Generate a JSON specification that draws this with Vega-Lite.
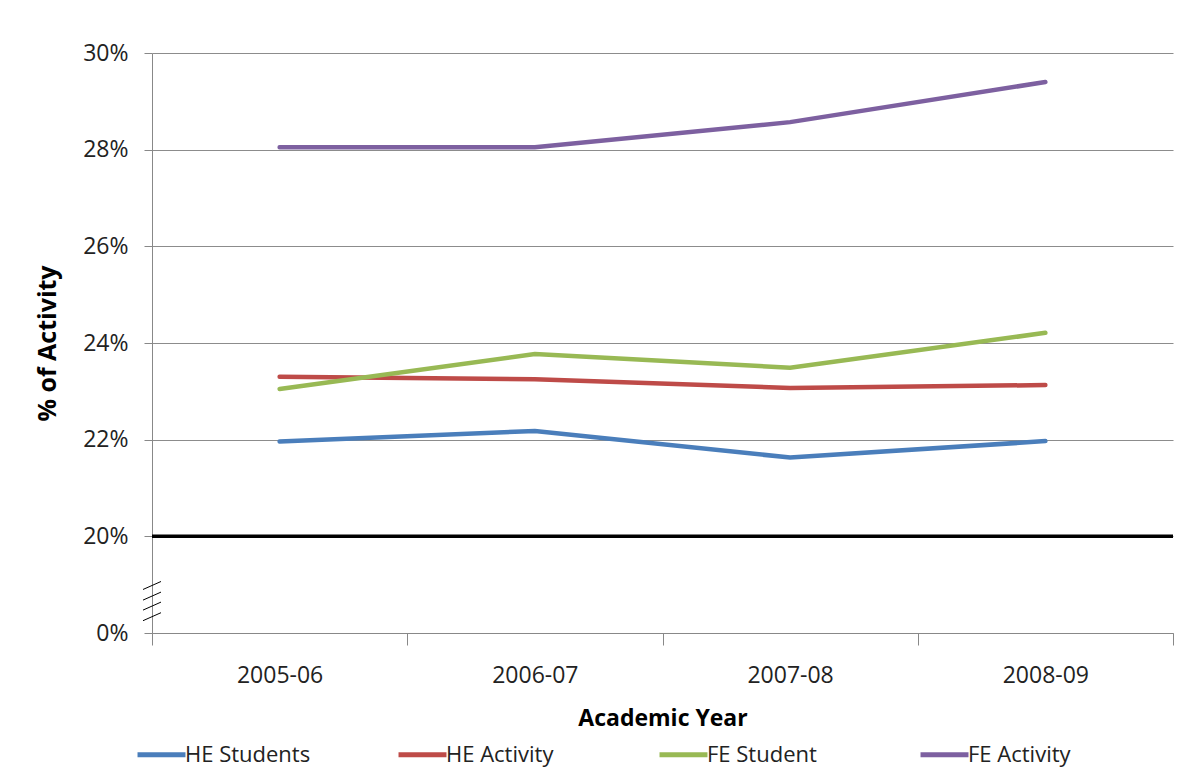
{
  "$schema": "https://vega.github.io/schema/vega-lite/v6.json",
  "autosize": "none",
  "width": 1021,
  "height": 580,
  "padding": {"left": 152, "top": 53, "right": 24, "bottom": 141},
  "background": "white",
  "config": {
    "view": {"stroke": null},
    "font": "Open Sans"
  },
  "datasets": {
    "series": [
      {"year": "2005-06", "series": "HE Students", "value": 21.96},
      {"year": "2006-07", "series": "HE Students", "value": 22.18},
      {"year": "2007-08", "series": "HE Students", "value": 21.63},
      {"year": "2008-09", "series": "HE Students", "value": 21.97},
      {"year": "2005-06", "series": "HE Activity", "value": 23.3},
      {"year": "2006-07", "series": "HE Activity", "value": 23.25},
      {"year": "2007-08", "series": "HE Activity", "value": 23.07},
      {"year": "2008-09", "series": "HE Activity", "value": 23.13},
      {"year": "2005-06", "series": "FE Student", "value": 23.05},
      {"year": "2006-07", "series": "FE Student", "value": 23.77},
      {"year": "2007-08", "series": "FE Student", "value": 23.49},
      {"year": "2008-09", "series": "FE Student", "value": 24.21},
      {"year": "2005-06", "series": "FE Activity", "value": 28.05},
      {"year": "2006-07", "series": "FE Activity", "value": 28.05},
      {"year": "2007-08", "series": "FE Activity", "value": 28.57},
      {"year": "2008-09", "series": "FE Activity", "value": 29.4}
    ],
    "baseline": [{"level": 20}],
    "breakmark": [{"year": "2005-06", "level": 18.66}]
  },
  "layer": [
    {
      "data": {"name": "series"},
      "mark": {"type": "line", "strokeWidth": 4.5, "strokeCap": "round"},
      "encoding": {
        "x": {
          "field": "year",
          "type": "ordinal",
          "bandPosition": 0.5,
          "scale": {"type": "band", "paddingInner": 0, "paddingOuter": 0, "domain": ["2005-06", "2006-07", "2007-08", "2008-09"]},
          "axis": {
            "title": "Academic Year",
            "titleFont": "Open Sans",
            "titleFontSize": 23,
            "titleFontWeight": "bold",
            "titleColor": "#000000",
            "titlePadding": 20,
            "labelFont": "Open Sans",
            "labelFontSize": 23,
            "labelColor": "#222222",
            "labelPadding": 19,
            "labelAngle": 0,
            "tickBand": "extent",
            "tickSize": 12,
            "tickColor": "#888888",
            "domainColor": "#888888",
            "grid": false
          }
        },
        "y": {
          "field": "value",
          "type": "quantitative",
          "scale": {"domain": [18, 30], "nice": false, "zero": false},
          "axis": {
            "title": "% of Activity",
            "titleFont": "Open Sans",
            "titleFontSize": 25,
            "titleFontWeight": "bold",
            "titleColor": "#000000",
            "titlePadding": 22,
            "values": [18, 20, 22, 24, 26, 28, 30],
            "labelExpr": "datum.value == 18 ? '0%' : datum.value + '%'",
            "labelFont": "Open Sans",
            "labelFontSize": 23,
            "labelColor": "#222222",
            "labelPadding": 16,
            "tickSize": 8,
            "tickColor": "#888888",
            "domainColor": "#888888",
            "grid": true,
            "gridColor": "#8c8c8c",
            "gridWidth": 1
          }
        },
        "color": {
          "field": "series",
          "type": "nominal",
          "scale": {
            "domain": ["HE Students", "HE Activity", "FE Student", "FE Activity"],
            "range": ["#4A7EBB", "#BE4B48", "#98B954", "#7D60A0"]
          },
          "legend": {
            "title": null,
            "orient": "none",
            "direction": "horizontal",
            "columns": 4,
            "gridAlign": "all",
            "columnPadding": 77,
            "legendX": -17,
            "legendY": 675,
            "symbolType": "stroke",
            "symbolSize": 2300,
            "symbolStrokeWidth": 5,
            "labelFont": "Open Sans",
            "labelFontSize": 22,
            "labelColor": "#222222",
            "labelOffset": -3,
            "labelLimit": 300
          }
        }
      }
    },
    {
      "data": {"name": "baseline"},
      "mark": {"type": "rule", "color": "#000000", "strokeWidth": 3.5},
      "encoding": {
        "y": {"field": "level", "type": "quantitative"}
      }
    },
    {
      "data": {"name": "breakmark"},
      "mark": {
        "type": "point",
        "shape": "M-0.45,-0.58L0.45,-0.98M-0.45,-0.05L0.45,-0.45M-0.45,0.45L0.45,0.05M-0.45,0.98L0.45,0.58",
        "size": 1600,
        "filled": false,
        "stroke": "#000000",
        "strokeWidth": 1,
        "opacity": 1
      },
      "encoding": {
        "x": {"field": "year", "type": "ordinal", "bandPosition": 0},
        "y": {"field": "level", "type": "quantitative"}
      }
    }
  ]
}
